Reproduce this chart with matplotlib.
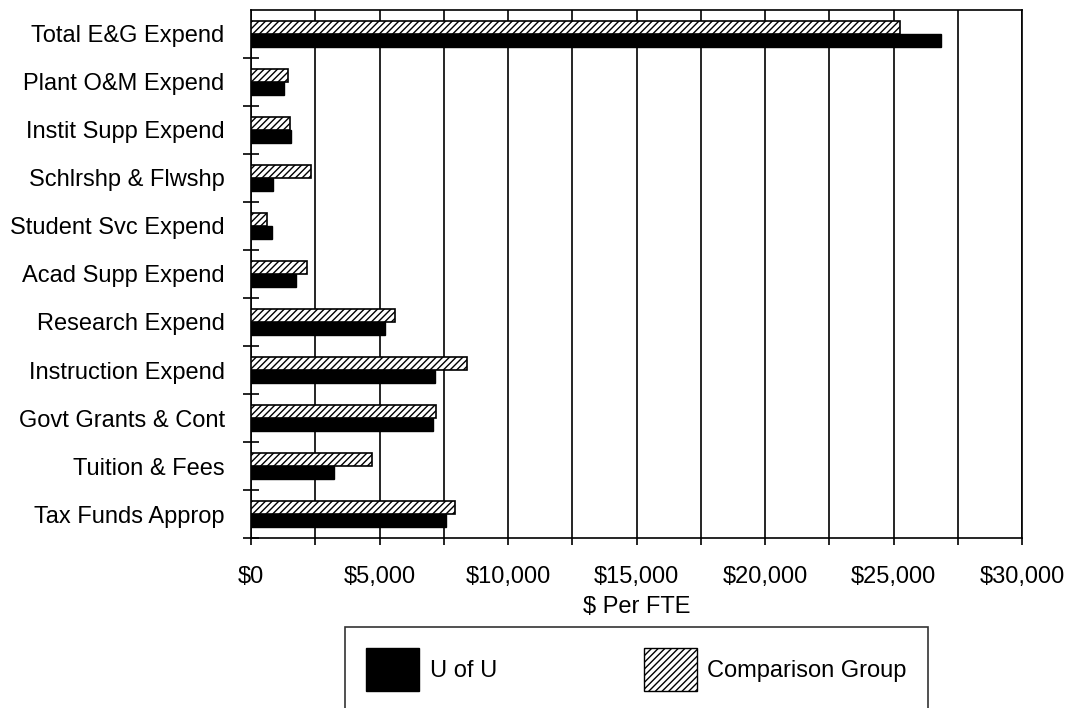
import numpy as np
import matplotlib.pyplot as plt
from matplotlib.patches import Patch
from matplotlib.ticker import MultipleLocator, FuncFormatter

categories = ["Tax Funds Approp", "Tuition & Fees", "Govt Grants & Cont",
              "Instruction Expend", "Research Expend", "Acad Supp Expend",
              "Student Svc Expend", "Schlrshp & Flwshp", "Instit Supp Expend",
              "Plant O&M Expend", "Total E&G Expend"]
u_of_u = [7590, 3230, 7070, 7150, 5200, 1750, 820, 840, 1560, 1270, 26850]
comparison = [7920, 4690, 7200, 8410, 5600, 2170, 640, 2320, 1520, 1450, 25250]

plt.rcParams["font.family"] = ["Liberation Sans", "DejaVu Sans"]
plt.rcParams["hatch.linewidth"] = 1.0

fig = plt.figure(figsize=(10.71, 7.08), dpi=100)
ax = fig.add_axes([0.2344, 0.2401, 0.7199, 0.7458])

y = np.arange(len(categories))
h = 0.27
ax.barh(y - h / 2, u_of_u, height=h, color="black", edgecolor="black",
        label="U of U", zorder=3)
ax.barh(y + h / 2, comparison, height=h, color="white", edgecolor="black",
        hatch="/////", linewidth=1.2, label="Comparison Group", zorder=3)

ax.set_xlim(0, 30000)
ax.set_ylim(-0.5, len(categories) - 0.5)

# x axis: labels every 5000, grid every 2500
ax.xaxis.set_major_locator(MultipleLocator(5000))
ax.xaxis.set_minor_locator(MultipleLocator(2500))
ax.xaxis.set_major_formatter(FuncFormatter(lambda v, p: f"${v:,.0f}"))
ax.grid(axis="x", which="both", color="black", linewidth=1.2, zorder=0)
ax.tick_params(axis="x", which="both", direction="out", length=5, width=1.2,
               labelsize=17, pad=15)

# y axis: tick marks at category boundaries, labels at centers
ax.set_yticks(np.arange(-0.5, len(categories) - 0.5, 1.0))
ax.set_yticklabels([])
ax.set_yticks(y, minor=True)
ax.set_yticklabels(categories, minor=True)
ax.tick_params(axis="y", which="major", direction="inout", length=12, width=1.2)
ax.tick_params(axis="y", which="minor", length=0, labelsize=17, pad=19)

for s in ax.spines.values():
    s.set_color("black")
    s.set_linewidth(1.2)

ax.set_xlabel("$ Per FTE", fontsize=17, labelpad=6)

handles = [Patch(facecolor="black", edgecolor="black", label="U of U"),
           Patch(facecolor="white", edgecolor="black", hatch="/////",
                 label="Comparison Group")]
leg = fig.legend(handles=handles, loc="upper left",
                 bbox_to_anchor=(345 / 1071, 1 - 627 / 708), ncol=2,
                 fontsize=17, frameon=True, fancybox=False, shadow=False,
                 handlelength=2.25, handleheight=2.4, handletextpad=0.45,
                 columnspacing=6.2, borderpad=0.9, borderaxespad=0)
leg.get_frame().set_edgecolor("black")
leg.get_frame().set_linewidth(1.2)

fig.savefig("out.png", dpi=100)
